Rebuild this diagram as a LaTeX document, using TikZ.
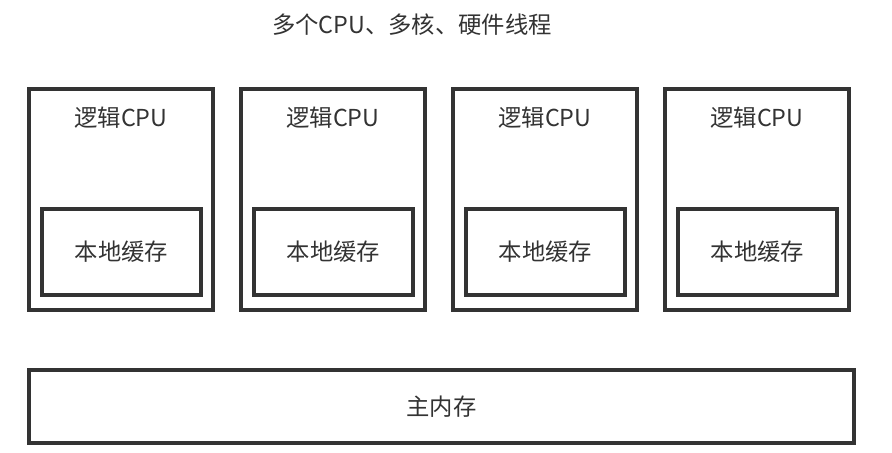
\documentclass[tikz,border=0pt]{standalone}
\usepackage{fontspec}
\setmainfont{Noto Sans CJK SC}
\usetikzlibrary{positioning}
\definecolor{inkgray}{RGB}{51,51,51}

\begin{document}
\begin{tikzpicture}[x=0.75pt,y=-0.75pt,
    box/.style={draw=inkgray,line width=2.4pt,inner sep=0pt},
    lbl/.style={text=inkgray,inner sep=0pt,font=\fontsize{17.5}{21}\selectfont}]
    \useasboundingbox (0,0) rectangle (892,453);
    \node[lbl] (title) at (412,25) {多个CPU、多核、硬件线程};
    \foreach \i/\x in {1/121,2/333,3/545,4/757} {
      \node[box,minimum width=138pt,minimum height=165.75pt] (cpu\i) at (\x,199.5) {};
      \node[lbl] (cpulbl\i) at (\x,118) {逻辑CPU};
      \node[box,minimum width=119.25pt,minimum height=64.5pt] (cache\i) at (\x+0.5,252) {};
      \node[lbl] (cachelbl\i) at (cache\i) {本地缓存};
    }
    \node[box,minimum width=618.75pt,minimum height=54.75pt] (mem) at (441.5,406.5) {};
    \node[lbl] (memlbl) at (mem) {主内存};
  \end{tikzpicture}
\end{document}
